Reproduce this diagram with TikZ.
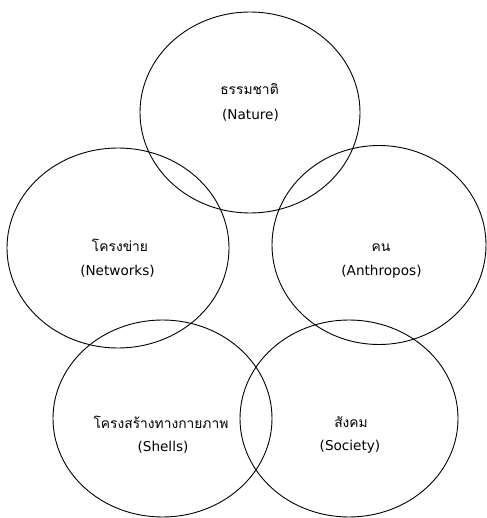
\documentclass[tikz,border=0pt]{standalone}
\usepackage{fontspec}
\newfontfamily\thaifont[Script=Thai]{Loma}
\newfontfamily\latfont{DejaVu Sans}
\usetikzlibrary{shapes.geometric}
\begin{document}
\begin{tikzpicture}[x=1pt,y=-1pt,
  ring/.style={draw=black,line width=0.9pt,ellipse,inner sep=0pt},
  thl/.style={font=\thaifont\fontsize{13.8}{16}\selectfont,anchor=base,inner sep=0pt},
  enl/.style={font=\latfont\fontsize{13.6}{16}\selectfont,anchor=base,inner sep=0pt}]
\useasboundingbox (0,0) rectangle (486,518);
\node[ring,minimum width=220pt,minimum height=201pt] (nature) at (250,112.5) {};
\node[ring,minimum width=222pt,minimum height=200pt] (networks) at (118,248) {};
\node[ring,minimum width=214pt,minimum height=199pt] (anthropos) at (379,245) {};
\node[ring,minimum width=219pt,minimum height=197pt] (shells) at (162.5,418.5) {};
\node[ring,minimum width=218pt,minimum height=197pt] (society) at (349,418.5) {};
\node[thl] (tnature) at (249.5,94.5) {ธรรมชาติ};
\node[enl] (enature) at (250.5,120) {(Nature)};
\node[thl] (tnetworks) at (120,251.5) {โครงข่าย};
\node[enl] (enetworks) at (117.5,275) {(Networks)};
\node[thl] (tanthropos) at (381,251.5) {คน};
\node[enl] (eanthropos) at (381.5,275) {(Anthropos)};
\node[thl] (tshells) at (161,428) {โครงสร้างทางกายภาพ};
\node[enl] (eshells) at (163,451) {(Shells)};
\node[thl] (tsociety) at (351,427.5) {สังคม};
\node[enl] (esociety) at (350,450) {(Society)};
\end{tikzpicture}
\end{document}
